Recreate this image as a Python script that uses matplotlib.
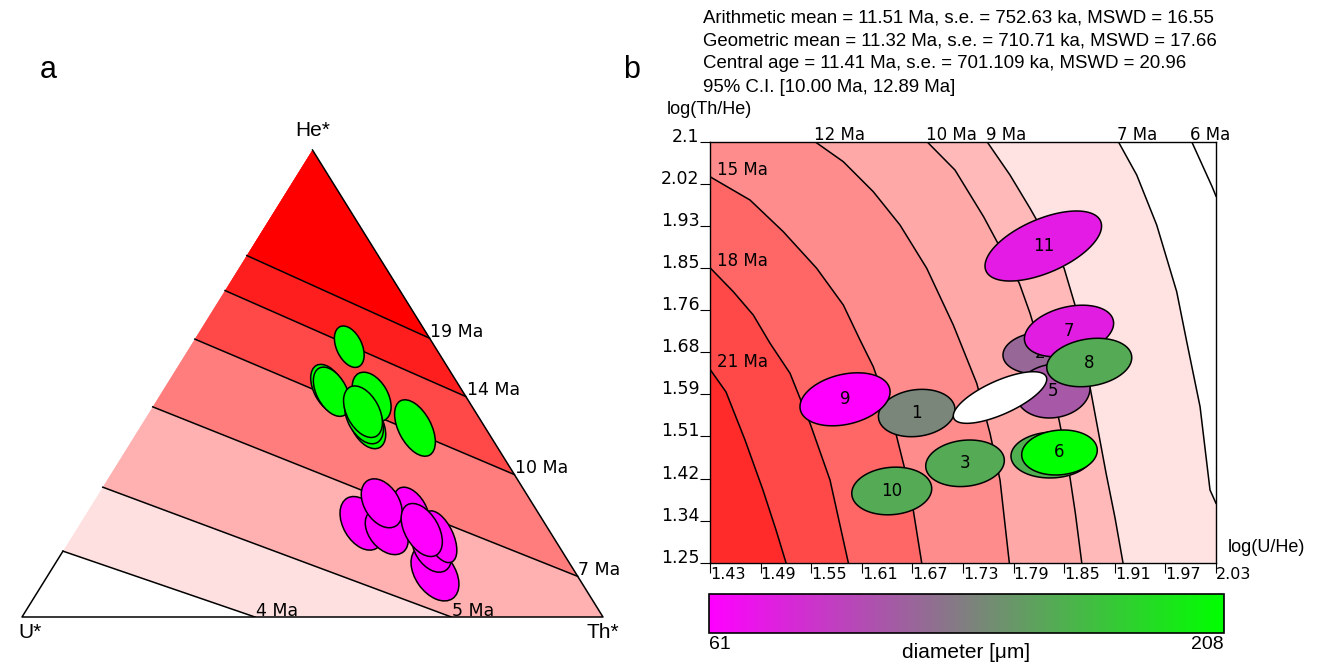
import numpy as np
import matplotlib
matplotlib.use("Agg")
import matplotlib.pyplot as plt
from matplotlib.patches import Polygon, Ellipse
from matplotlib.colors import LinearSegmentedColormap, Normalize
from matplotlib.cm import ScalarMappable

# ------------------------------------------------------------------ data
HEADER_LINES = [
    "Arithmetic mean = 11.51 Ma, s.e. = 752.63 ka, MSWD = 16.55",
    "Geometric mean = 11.32 Ma, s.e. = 710.71 ka, MSWD = 17.66",
    "Central age = 11.41 Ma, s.e. = 701.109 ka, MSWD = 20.96",
    "95% C.I. [10.00 Ma, 12.89 Ma]",
]

# panel a : ternary He*-U*-Th* ; isochrons run from the U*-He* edge to the
# Th*-He* edge (or to the U*-Th* base when END_HE == 0)
TERN_AGES = [19, 14, 10, 7, 5, 4]
TERN_START_HE = [0.774, 0.699, 0.595, 0.450, 0.278, 0.141]
TERN_END_HE = [0.597, 0.472, 0.305, 0.087, 0.0, 0.0]
TERN_END_TH = [0.403, 0.528, 0.695, 0.913, 0.739, 0.401]
TERN_BAND_COLORS = ['#ff0000', '#ff1e1e', '#ff4848', '#ff7d7d', '#ffb0b0', '#ffe0e0']

# grains in the ternary (He*, Th* fractions, semi-axes, orientation)
TA_HE = [0.4882, 0.4824, 0.4717, 0.4133, 0.4261, 0.4396, 0.5788, 0.4047,
         0.0936, 0.1471, 0.1719, 0.2291, 0.2006, 0.1827, 0.2435, 0.1863]
TA_TH = [0.2843, 0.2918, 0.3660, 0.3872, 0.3756, 0.3671, 0.2739, 0.4740,
         0.6640, 0.6316, 0.6334, 0.5561, 0.4844, 0.5364, 0.4974, 0.5949]
TA_A = [0.046, 0.046, 0.046, 0.046, 0.048, 0.048, 0.038, 0.053,
        0.053, 0.045, 0.048, 0.043, 0.050, 0.045, 0.046, 0.050]
TA_B = [0.026, 0.026, 0.028, 0.027, 0.028, 0.028, 0.022, 0.028,
        0.034, 0.029, 0.023, 0.025, 0.032, 0.030, 0.030, 0.029]
TA_ANG = [-62, -62, -60, -62, -62, -62, -65, -62,
          -55, -58, -65, -60, -60, -50, -58, -60]
TA_COLOR = ['#00ff00'] * 8 + ['#ff00ff'] * 8

# panel b : log-ratio plot, isochron traces
ISO_AGES = [21, 18, 15, 12, 10, 9, 7, 6]
ISO_X = [
    [1.4300, 1.4490, 1.4715, 1.4928, 1.5083, 1.5201],
    [1.4300, 1.4576, 1.4813, 1.5012, 1.5249, 1.5486, 1.5723, 1.5940],
    [1.4300, 1.4774, 1.5169, 1.5565, 1.5881, 1.6079, 1.6236, 1.6474, 1.6672, 1.6810],
    [1.5545, 1.5881, 1.6236, 1.6553, 1.6870, 1.7185, 1.7463, 1.7620, 1.7739, 1.7849],
    [1.6873, 1.7205, 1.7544, 1.7777, 1.7968, 1.8095, 1.8296, 1.8439, 1.8550, 1.8632, 1.8708],
    [1.7585, 1.7857, 1.8095, 1.8308, 1.8498, 1.8628, 1.8723, 1.8806, 1.8901, 1.8996, 1.9103, 1.9197],
    [1.9142, 1.9360, 1.9597, 1.9834, 1.9953, 2.0111, 2.0229, 2.0300],
    [2.0012, 2.0254, 2.0300],
]
ISO_Y = [
    [1.6405, 1.5947, 1.4978, 1.3968, 1.3160, 1.2500],
    [1.8456, 1.7972, 1.7501, 1.6930, 1.6324, 1.5315, 1.4170, 1.2500],
    [2.0293, 1.9823, 1.9183, 1.8444, 1.7703, 1.6996, 1.6457, 1.5315, 1.3968, 1.2500],
    [2.1000, 2.0596, 1.9991, 1.9318, 1.8444, 1.7299, 1.6122, 1.5113, 1.4170, 1.2500],
    [2.1000, 2.0428, 1.9486, 1.8747, 1.8141, 1.7535, 1.6391, 1.5381, 1.4432, 1.3503, 1.2500],
    [2.1000, 2.0328, 1.9655, 1.9015, 1.8450, 1.7703, 1.6895, 1.6047, 1.5179, 1.4311, 1.3403, 1.2500],
    [2.1000, 2.0328, 1.9318, 1.7972, 1.6962, 1.5650, 1.3968, 1.3700],
    [2.1000, 2.0091, 1.9900],
]
ISO_BAND_COLORS = ['#ff2a2a', '#ff4848', '#ff6666', '#ff8c8c', '#ffa8a8', '#ffb9b9', '#ffe2e2', '#ffffff']

# grains in panel b (drawing order back to front); '' = label hidden in the original
GRAIN_LABEL = ['10', '3', '', '6', '1', '9', '2', '5', '', '11', '7', '8']
GRAIN_X = [1.6455, 1.7324, 1.8355, 1.8444, 1.6751, 1.5901, 1.8213, 1.8367, 1.7739, 1.8252, 1.8557, 1.8797]
GRAIN_Y = [1.3948, 1.4507, 1.4675, 1.4725, 1.5522, 1.5799, 1.6734, 1.5967, 1.5835, 1.8894, 1.7178, 1.6542]
GRAIN_SX = [0.0474, 0.0466, 0.0486, 0.0448, 0.0454, 0.0534, 0.0439, 0.0439, 0.0554, 0.0691, 0.0529, 0.0504]
GRAIN_SY = [0.0481, 0.0470, 0.0464, 0.0454, 0.0478, 0.0535, 0.0424, 0.0545, 0.0521, 0.0707, 0.0521, 0.0489]
GRAIN_RHO = [0.10, 0.12, 0.05, 0.10, 0.14, 0.28, 0.10, 0.10, 0.71, 0.57, 0.30, 0.20]
GRAIN_DIAM = [159, 159, 162, 208, 138, 61, 121, 112, np.nan, 77, 78, 159]

X_TICKS = [1.43, 1.49, 1.55, 1.61, 1.67, 1.73, 1.79, 1.85, 1.91, 1.97, 2.03]
X_TICKLABELS = ['1.43', '1.49', '1.55', '1.61', '1.67', '1.73', '1.79', '1.85', '1.91', '1.97', '2.03']
Y_TICKS = [1.25, 1.335, 1.42, 1.505, 1.59, 1.675, 1.76, 1.845, 1.93, 2.015, 2.10]
Y_TICKLABELS = ['1.25', '1.34', '1.42', '1.51', '1.59', '1.68', '1.76', '1.85', '1.93', '2.02', '2.1']
DIAM_MIN, DIAM_MAX = 61, 208

# ------------------------------------------------------------------ style
SANS = ['Liberation Sans', 'DejaVu Sans']
DEJA = ['DejaVu Sans']
TRI_H = 0.8038      # drawn triangle height / width

fig = plt.figure(figsize=(13.25, 6.65), dpi=100)
W, Hpx = 1325.0, 665.0


def tern(he, th):
    he = np.asarray(he, float)
    th = np.asarray(th, float)
    return th + he / 2.0, he * TRI_H


# ------------------------------------------------------------------ panel a
axa = fig.add_axes([22 / W, 1 - 617 / Hpx, 581 / W, 467 / Hpx])
axa.set_xlim(0, 1)
axa.set_ylim(0, TRI_H)
axa.axis('off')

U_pt = tern(0, 0)
Th_pt = tern(0, 1)
He_pt = tern(1, 0)

for i in range(len(TERN_AGES) - 1, -1, -1):
    s = tern(TERN_START_HE[i], 0)
    e = tern(TERN_END_HE[i], TERN_END_TH[i])
    if TERN_END_HE[i] == 0:
        poly = [s, e, Th_pt, He_pt]
    else:
        poly = [s, e, He_pt]
    axa.add_patch(Polygon(poly, closed=True, fc=TERN_BAND_COLORS[i], ec='none', zorder=1))

for i, age in enumerate(TERN_AGES):
    s = tern(TERN_START_HE[i], 0)
    e = tern(TERN_END_HE[i], TERN_END_TH[i])
    axa.plot([s[0], e[0]], [s[1], e[1]], color='black', lw=1.1, zorder=2)
    axa.annotate(f"{age} Ma", xy=e, xytext=(0.5, 1.0), textcoords='offset points',
                 ha='left', va='baseline', fontsize=12.5, family=DEJA, zorder=5,
                 annotation_clip=False)

s4 = tern(TERN_START_HE[-1], 0)
axa.plot([s4[0], U_pt[0], Th_pt[0], He_pt[0]], [s4[1], U_pt[1], Th_pt[1], He_pt[1]],
         color='black', lw=1.1, zorder=2, clip_on=False)

for k in range(len(TA_HE)):
    c = tern(TA_HE[k], TA_TH[k])
    axa.add_patch(Ellipse((float(c[0]), float(c[1])), 2 * TA_A[k], 2 * TA_B[k], angle=TA_ANG[k],
                          fc=TA_COLOR[k], ec='black', lw=1.1, zorder=3 + k * 0.01))

axa.annotate("He*", xy=He_pt, xytext=(0, 14), textcoords='offset points', ha='center',
             va='center', fontsize=15, family=SANS, annotation_clip=False)
axa.annotate("U*", xy=U_pt, xytext=(6, -11), textcoords='offset points', ha='center',
             va='center', fontsize=15, family=SANS, annotation_clip=False)
axa.annotate("Th*", xy=Th_pt, xytext=(0, -11), textcoords='offset points', ha='center',
             va='center', fontsize=15, family=SANS, annotation_clip=False)

fig.text(48 / W, 1 - 70 / Hpx, "a", fontsize=22, family=SANS, ha='center', va='center')
fig.text(632 / W, 1 - 70 / Hpx, "b", fontsize=22, family=SANS, ha='center', va='center')

# ------------------------------------------------------------------ panel b
axb = fig.add_axes([710 / W, 1 - 562.7 / Hpx, 506 / W, 421 / Hpx])
xmin, xmax = X_TICKS[0], X_TICKS[-1]
ymin, ymax = Y_TICKS[0], Y_TICKS[-1]
axb.set_xlim(xmin, xmax)
axb.set_ylim(ymin, ymax)

for i in range(len(ISO_AGES) - 1, -1, -1):
    xs, ys = ISO_X[i], ISO_Y[i]
    pts = list(zip(xs, ys))
    if xs[-1] >= xmax - 1e-9:
        pts.append((xmax, ymin))
    pts.append((xmin, ymin))
    if ys[0] >= ymax - 1e-9:
        pts.append((xmin, ymax))
    axb.add_patch(Polygon(pts, closed=True, fc=ISO_BAND_COLORS[i], ec='none', zorder=1))

for i, age in enumerate(ISO_AGES):
    xs, ys = ISO_X[i], ISO_Y[i]
    axb.plot(xs, ys, color='black', lw=1.1, zorder=2)
    if ys[0] >= ymax - 1e-9:
        axb.annotate(f"{age} Ma", xy=(xs[0], ymax), xytext=(-1, 1.5), textcoords='offset points',
                     ha='left', va='baseline', fontsize=12, family=DEJA, annotation_clip=False)
    else:
        axb.annotate(f"{age} Ma", xy=(xmin, ys[0]), xytext=(5, 1.5), textcoords='offset points',
                     ha='left', va='baseline', fontsize=12, family=DEJA)

cmap = LinearSegmentedColormap.from_list('diam', ['#ff00ff', '#808080', '#00ff00'])
norm = Normalize(DIAM_MIN, DIAM_MAX)
t = np.linspace(0, 2 * np.pi, 160)
for k in range(len(GRAIN_X)):
    r = GRAIN_RHO[k]
    ex = GRAIN_X[k] + GRAIN_SX[k] * np.cos(t)
    ey = GRAIN_Y[k] + GRAIN_SY[k] * (r * np.cos(t) + np.sqrt(1 - r * r) * np.sin(t))
    d = GRAIN_DIAM[k]
    fc = 'white' if np.isnan(d) else cmap(norm(d))
    axb.add_patch(Polygon(np.column_stack([ex, ey]), closed=True, fc=fc, ec='black',
                          lw=1.1, zorder=3 + k))
    if GRAIN_LABEL[k]:
        axb.text(GRAIN_X[k], GRAIN_Y[k], GRAIN_LABEL[k], ha='center', va='center',
                 fontsize=12, family=DEJA, zorder=3.5 + k)

axb.set_xticks(X_TICKS)
axb.set_xticklabels(X_TICKLABELS)
axb.set_yticks(Y_TICKS)
axb.set_yticklabels(Y_TICKLABELS)
axb.tick_params(axis='x', direction='out', length=7, width=0.8, pad=-4, labelsize=11.5)
axb.tick_params(axis='y', direction='out', length=7, width=0.8, pad=0.5, labelsize=12.5)
for lab in axb.get_xticklabels():
    lab.set_ha('left')
    lab.set_family(DEJA)
for lab in axb.get_yticklabels():
    lab.set_va('baseline')
    lab.set_family(DEJA)
for sp in axb.spines.values():
    sp.set_linewidth(1.0)

fig.text(667 / W, 1 - 110 / Hpx, "log(Th/He)", ha='left', va='center', fontsize=13, family=SANS)
fig.text(1228 / W, 1 - 548 / Hpx, "log(U/He)", ha='left', va='center', fontsize=13, family=SANS)

for j, line in enumerate(HEADER_LINES):
    yc = [18, 41, 63, 87][j]
    fig.text(703 / W, 1 - yc / Hpx, line, ha='left', va='center', fontsize=13.4, family=SANS)

# ------------------------------------------------------------------ colourbar
cax = fig.add_axes([708.6 / W, 1 - 633.3 / Hpx, 515.3 / W, 39 / Hpx])
cb = fig.colorbar(ScalarMappable(norm=norm, cmap=cmap), cax=cax, orientation='horizontal')
cb.set_ticks([])
cb.outline.set_linewidth(1.2)
cax.text(0.0, -0.08, str(DIAM_MIN), transform=cax.transAxes, ha='left', va='top',
         fontsize=14, family=SANS)
cax.text(1.0, -0.08, str(DIAM_MAX), transform=cax.transAxes, ha='right', va='top',
         fontsize=14, family=SANS)
cax.text(0.5, -0.25, "diameter [\u03bcm]", transform=cax.transAxes, ha='center', va='top',
         fontsize=15, family=SANS)

fig.savefig("out.png", dpi=100)
